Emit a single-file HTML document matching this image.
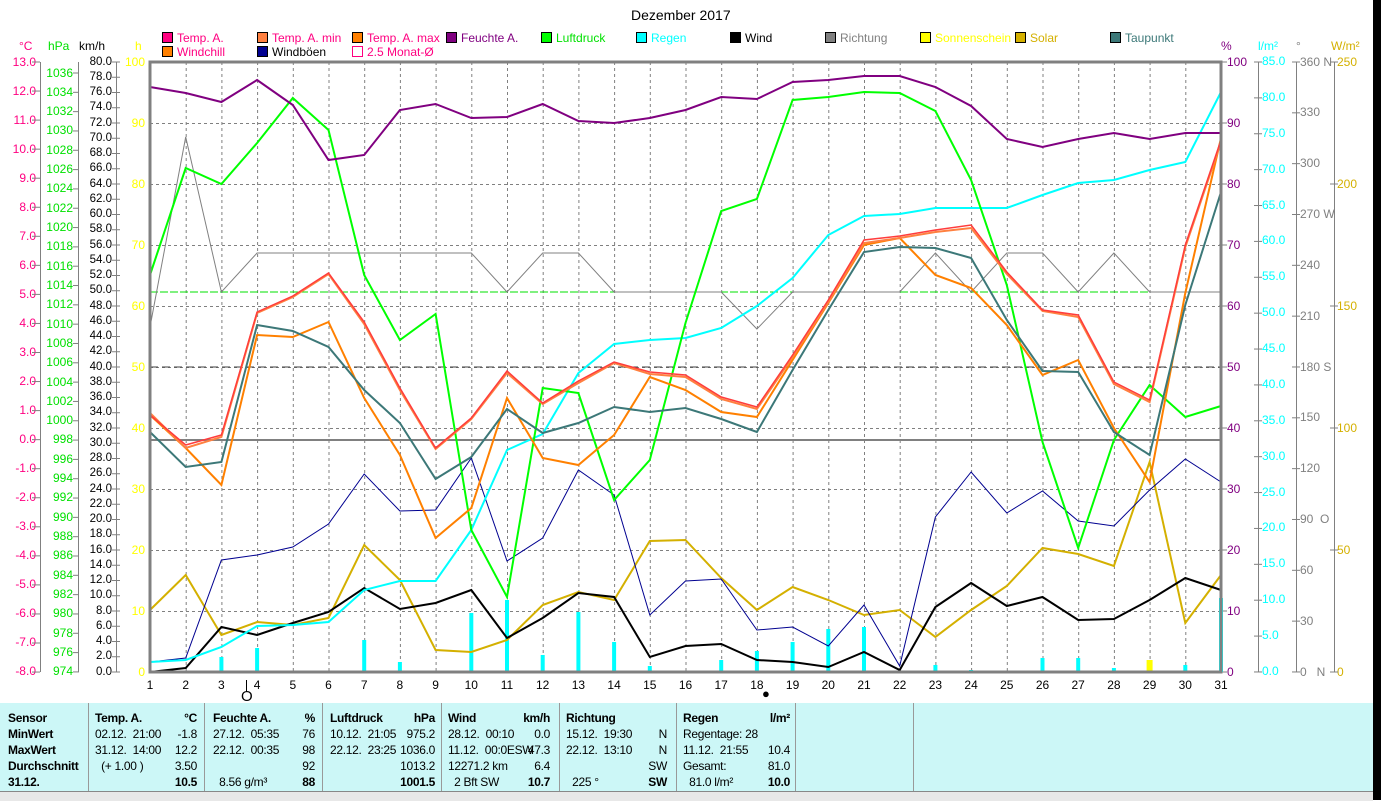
<!DOCTYPE html>
<html><head><meta charset="utf-8">
<style>
body{margin:0;width:1381px;height:800px;overflow:hidden;background:#fff;font-family:"Liberation Sans",sans-serif;position:relative}
.a{position:absolute;font-size:12px;white-space:pre}
.col{position:absolute;font-size:12px;text-align:right;white-space:pre}
.colL{position:absolute;font-size:12px;text-align:left;white-space:pre}
.lg{position:absolute;font-size:12px;white-space:pre}
.lg i{display:inline-block;width:9px;height:9px;border:1px solid #000;margin-right:4px;vertical-align:-1px}
#tbl{position:absolute;left:0;top:703px;width:1373px;height:88px;background:#ccf7f7;font-size:12px}
#tbl .c{position:absolute;top:0;height:88px;border-right:1px solid #999}
#tbl .r{position:absolute;white-space:pre;line-height:16px;letter-spacing:-0.3px}
</style></head><body>
<div class="a" style="left:631px;top:7px;font-size:14px">Dezember 2017</div>
<div class="lg" style="left:162px;top:31px;color:#ff0080"><i style="background:#ff0080"></i>Temp. A.</div>
<div class="lg" style="left:257px;top:31px;color:#ff0080"><i style="background:#ff8040"></i>Temp. A. min</div>
<div class="lg" style="left:352px;top:31px;color:#ff0080"><i style="background:#ff8000"></i>Temp. A. max</div>
<div class="lg" style="left:446px;top:31px;color:#800080"><i style="background:#800080"></i>Feuchte A.</div>
<div class="lg" style="left:541px;top:31px;color:#00e000"><i style="background:#00ff00"></i>Luftdruck</div>
<div class="lg" style="left:636px;top:31px;color:#00ffff"><i style="background:#00ffff"></i>Regen</div>
<div class="lg" style="left:730px;top:31px;color:#000"><i style="background:#000"></i>Wind</div>
<div class="lg" style="left:825px;top:31px;color:#808080"><i style="background:#808080"></i>Richtung</div>
<div class="lg" style="left:920px;top:31px;color:#ffff00"><i style="background:#ffff00"></i>Sonnenschein</div>
<div class="lg" style="left:1015px;top:31px;color:#d4b000"><i style="background:#d4b000"></i>Solar</div>
<div class="lg" style="left:1110px;top:31px;color:#3c7878"><i style="background:#3c7878"></i>Taupunkt</div>
<div class="lg" style="left:162px;top:45px;color:#ff0080"><i style="background:#ff8000"></i>Windchill</div>
<div class="lg" style="left:257px;top:45px;color:#000"><i style="background:#000090"></i>Windböen</div>
<div class="lg" style="left:352px;top:45px;color:#ff0080"><i style="background:#fff;border-color:#ff0080"></i>2.5 Monat-Ø</div>
<div class="a" style="left:19px;top:39px;color:#ff0080">°C</div>
<div class="a" style="left:48px;top:39px;color:#00e000">hPa</div>
<div class="a" style="left:79px;top:39px">km/h</div>
<div class="a" style="left:135px;top:39px;color:#ffff00">h</div>
<div class="a" style="left:1221px;top:39px;color:#800080">%</div>
<div class="a" style="left:1258px;top:39px;color:#00ffff">l/m²</div>
<div class="a" style="left:1296px;top:39px;color:#808080">°</div>
<div class="a" style="left:1331px;top:39px;color:#d4b000">W/m²</div>
<div class="col" style="right:1345px;top:47.5px;line-height:29.05px;color:#ff0080">13.0
12.0
11.0
10.0
9.0
8.0
7.0
6.0
5.0
4.0
3.0
2.0
1.0
0.0
-1.0
-2.0
-3.0
-4.0
-5.0
-6.0
-7.0
-8.0</div>
<div class="col" style="right:1308px;top:63.5px;line-height:19.32px;color:#00e000">1036
1034
1032
1030
1028
1026
1024
1022
1020
1018
1016
1014
1012
1010
1008
1006
1004
1002
1000
998
996
994
992
990
988
986
984
982
980
978
976
974</div>
<div class="col" style="right:1269px;top:54.5px;line-height:15.25px;font-size:11.5px">80.0
78.0
76.0
74.0
72.0
70.0
68.0
66.0
64.0
62.0
60.0
58.0
56.0
54.0
52.0
50.0
48.0
46.0
44.0
42.0
40.0
38.0
36.0
34.0
32.0
30.0
28.0
26.0
24.0
22.0
20.0
18.0
16.0
14.0
12.0
10.0
8.0
6.0
4.0
2.0
0.0</div>
<div class="col" style="right:1236px;top:31.5px;line-height:61px;color:#ffff00">100
90
80
70
60
50
40
30
20
10
0</div>
<div class="colL" style="left:1227px;top:31.5px;line-height:61px;color:#800080">100
90
80
70
60
50
40
30
20
10
0</div>
<div class="colL" style="left:1262px;top:44px;line-height:35.88px;color:#00ffff">85.0
80.0
75.0
70.0
65.0
60.0
55.0
50.0
45.0
40.0
35.0
30.0
25.0
20.0
15.0
10.0
5.0
0.0</div>
<div class="colL" style="left:1300px;top:36.6px;line-height:50.83px;color:#808080">360 N
330
300
270 W
240
210
180 S
150
120
90  O
60
30
0   N</div>
<div class="colL" style="left:1337px;top:1px;line-height:122px;color:#d4b000">250
200
150
100
50
0</div>
<div class="a" style="left:0;top:678px;width:1381px;height:14px" id="xl"></div>
<div class="a" style="left:241px;top:688px;font-size:15px">O</div>
<div class="a" style="left:762px;top:686px;font-size:13px">●</div>

<svg width="1381" height="800" style="position:absolute;left:0;top:0" id="s">
<g stroke="#808080" stroke-width="1" fill="none">
<line x1="40.5" y1="62" x2="40.5" y2="672"/><line x1="78.5" y1="62" x2="78.5" y2="672"/>
<line x1="116.5" y1="62" x2="116.5" y2="672"/>
<line x1="1258.5" y1="62" x2="1258.5" y2="672"/><line x1="1296.5" y1="62" x2="1296.5" y2="672"/><line x1="1334.5" y1="62" x2="1334.5" y2="672"/>
</g>
<g id="ticks" stroke="#808080"></g>
<g id="grid" stroke="#808080" stroke-dasharray="3,3" stroke-width="1"></g>
<line x1="150" y1="440" x2="1221" y2="440" stroke="#808080" stroke-width="2"/>
<line x1="150" y1="367" x2="1221" y2="367" stroke="#404040" stroke-dasharray="8,4"/>
<line x1="150" y1="292" x2="1221" y2="292" stroke="#00e000" stroke-dasharray="8,2" stroke-width="1"/>
<g id="bars"></g>
<g id="lines" fill="none"></g>
<rect x="150" y="62" width="1071" height="610" fill="none" stroke="#808080" stroke-width="3"/>
<line x1="246.5" y1="680" x2="246.5" y2="692" stroke="#000"/>
</svg>

<div id="tbl">
<div class="c" style="left:0;width:88px"></div><div class="c" style="left:88px;width:116px"></div>
<div class="c" style="left:205px;width:117px"></div><div class="c" style="left:323px;width:118px"></div>
<div class="c" style="left:442px;width:117px"></div><div class="c" style="left:560px;width:116px"></div>
<div class="c" style="left:677px;width:118px"></div><div class="c" style="left:796px;width:117px"></div>
<div class="r" style="left:8px;top:7px;font-weight:bold">Sensor
MinWert
MaxWert
Durchschnitt
31.12.</div>
</div>
<div style="position:absolute;left:0;top:791px;width:1373px;height:9px;background:#e8e8e8;border-top:1px solid #888"></div>
<div style="position:absolute;left:1373px;top:0;width:8px;height:800px;background:#000"></div>
<script>
const X=i=>150+(i)*35.7;
const NS='http://www.w3.org/2000/svg';
function el(p,t,a){const e=document.createElementNS(NS,t);for(const k in a)e.setAttribute(k,a[k]);document.getElementById(p).appendChild(e);return e}
for(let i=1;i<30;i++)el('grid','line',{x1:X(i)+.5,y1:62,x2:X(i)+.5,y2:672});
for(let j=1;j<10;j++)el('grid','line',{x1:150,y1:62+j*61+.5,x2:1221,y2:62+j*61+.5});
function tk(x,y0,step,n,len){for(let k=0;k<n;k++){const y=y0+k*step;el('ticks','line',{x1:x-len,y1:y,x2:x+len,y2:y})}}
tk(36,62,29.05,22,4);tk(76,73,19.32,32,3);tk(116,62,15.25,41,4);tk(1223,62,61,11,4);tk(1258,62,35.88,18,4);tk(1296,62,50.83,13,4);tk(1334,62,122,6,4);
const xd=document.getElementById('xl');
for(let i=0;i<31;i++){const d=document.createElement('span');d.textContent=i+1;d.style.cssText='position:absolute;left:'+(X(i)-10)+'px;width:20px;text-align:center';xd.appendChild(d)}
const rb={3:657,4:648,7:640,8:662,10:613,11:600,12:655,13:612,14:642,15:666,17:660,18:651,19:642,20:629,21:627,23:665,24:670,26:658,27:658,28:668,29:660,30:665,31:598};
for(const d in rb)el('bars','rect',{x:X(d-1)-2,y:rb[d],width:4,height:672-rb[d],fill:'#00ffff'});
el('bars','rect',{x:X(28)-3,y:660,width:6,height:12,fill:'#ffff00'});
function L(c,w,ys){el('lines','polyline',{points:ys.map((y,i)=>X(i)+','+y).join(' '),stroke:c,'stroke-width':w})}
L('#808080',1,[327,137,292,253,253,253,253,253,253,253,292,253,253,292,292,292,292,329,292,292,292,292,253,292,253,253,292,253,292,292,292]);
L('#d4b000',2,[610,575,635,622,625,618,545,580,650,652,640,605,592,600,541,540,578,610,587,600,615,610,637,610,586,548,554,566,462,623,575]);
L('#000090',1,[662,658,560,555,547,524,474,511,510,458,561,538,470,495,615,581,579,630,627,646,605,666,517,472,513,491,521,526,490,459,482]);
L('#000',2,[672,668,627,635,623,612,588,609,603,590,638,618,593,597,657,646,644,660,662,667,652,670,607,583,606,597,620,619,600,578,590]);
L('#00ffff',2,[662,660,647,626,625,622,590,581,581,530,450,434,373,344,340,338,328,306,278,235,216,214,208,208,208,195,183,180,170,162,92]);
L('#00ff00',2,[275,168,184,143,98,130,275,340,314,530,597,388,393,500,460,323,211,199,100,97,92,93,111,180,285,442,548,440,385,417,406]);
L('#800080',2,[87,93,102,80,105,160,155,110,104,118,117,104,121,123,118,110,97,99,82,80,76,76,87,106,139,147,139,133,139,133,133]);
L('#ff8000',2,[415,448,485,335,337,322,398,455,538,508,398,458,465,435,377,390,412,417,360,303,245,238,275,288,325,375,360,428,482,293,138]);
L('#ff8040',2,[413,448,437,313,297,274,324,390,449,419,373,404,383,363,374,377,399,409,357,302,243,238,232,228,274,311,317,384,402,247,142]);
L('#3c7878',2,[432,467,462,325,331,347,390,423,479,457,409,433,423,407,412,408,419,432,370,310,252,247,248,258,320,371,372,432,455,305,192]);
L('#ff3c3c',1.5,[415,445,435,312,296,273,322,388,448,418,371,403,381,362,372,375,397,407,355,300,240,236,230,225,272,310,315,382,400,245,140]);
const T=document.getElementById('tbl');
function R(l,t,txt,al,b){const d=document.createElement('div');d.className='r';d.textContent=txt;d.style.top=t+'px';d.style[al?'right':'left']=l+'px';if(b)d.style.fontWeight='bold';T.appendChild(d)}
const rows=[7,23,39,55,71];
const cols=[[95,1176,[['Temp. A.','°C',1],['02.12.  21:00','-1.8'],['31.12.  14:00','12.2'],['  (+ 1.00 )','3.50'],['','10.5',2]]],
[213,1058,[['Feuchte A.','%',1],['27.12.  05:35','76'],['22.12.  00:35','98'],['','92'],['  8.56 g/m³','88',2]]],
[330,938,[['Luftdruck','hPa',1],['10.12.  21:05','975.2'],['22.12.  23:25','1036.0'],['','1013.2'],['','1001.5',2]]],
[448,823,[['Wind','km/h',1],['28.12.  00:10','0.0'],['11.12.  00:0ESW','47.3'],['12271.2 km','6.4'],['  2 Bft SW','10.7',2]]],
[566,706,[['Richtung','',1],['15.12.  19:30','N'],['22.12.  13:10','N'],['','SW'],['  225 °','SW',2]]],
[683,583,[['Regen','l/m²',1],['Regentage: 28',''],['11.12.  21:55','10.4'],['Gesamt:','81.0'],['  81.0 l/m²','10.0',2]]]];
for(const [l,r,rs] of cols)rs.forEach((x,k)=>{R(l,rows[k],x[0],0,x[2]==1);R(r,rows[k],x[1],1,x[2]>0)});
</script>
</body></html>
